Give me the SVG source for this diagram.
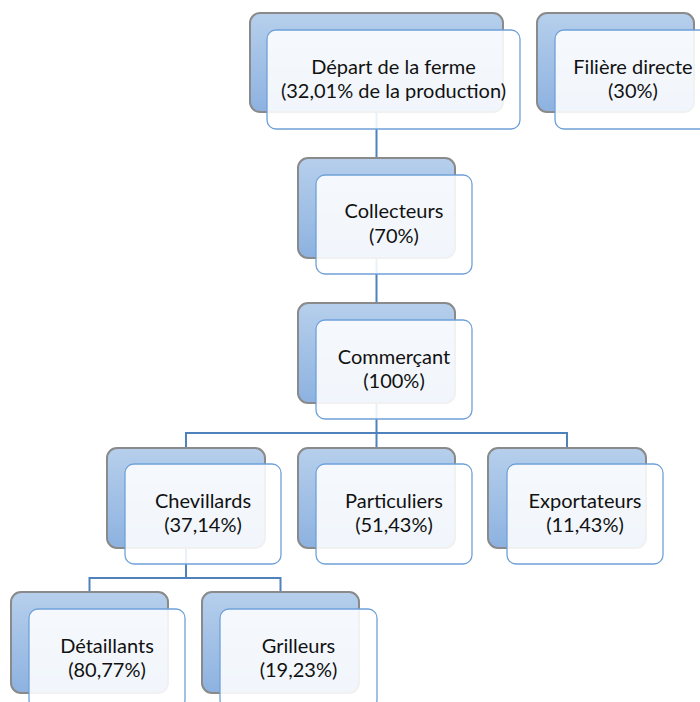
<svg xmlns="http://www.w3.org/2000/svg" width="700" height="702" viewBox="0 0 700 702">
<style>
.back{fill:url(#bg);stroke:#8a8a8a;stroke-width:2}
.front{fill:#ffffff;fill-opacity:0.88;stroke:#6fa1d9;stroke-width:1.3}
.conn{fill:none;stroke:#4f81bd;stroke-width:2}
text{font-family:"Lato","Liberation Sans",sans-serif;font-size:20px;fill:#111;text-anchor:middle}
</style>
<defs>
<linearGradient id="bg" x1="0" y1="0" x2="0" y2="1">
<stop offset="0" stop-color="#b6cfec"/>
<stop offset="1" stop-color="#8db2e0"/>
</linearGradient>
</defs>
<rect width="700" height="702" fill="#ffffff"/>
<g id="connectors">
<path class="conn" d="M376.5 112V158M376.5 258V303M376.5 403V448M186 448V433H567V448M186 548V578M89.5 592V578H280.5V592"/>
</g>
<g id="depart">
<rect class="back" x="250" y="13" width="253" height="99" rx="10"/>
<rect class="front" x="267" y="30" width="253" height="99" rx="9"/>
<text x="393.5" y="74">Départ de la ferme</text>
<text x="393.5" y="98">(32,01% de la production)</text>
</g>
<g id="filiere">
<rect class="back" x="537" y="13" width="157" height="99" rx="10"/>
<rect class="front" x="555" y="30" width="156" height="99" rx="9"/>
<text x="633" y="74">Filière directe</text>
<text x="633" y="98">(30%)</text>
</g>
<g id="collecteurs">
<rect class="back" x="298" y="158" width="157" height="100" rx="10"/>
<rect class="front" x="316" y="175" width="156" height="99" rx="9"/>
<text x="394" y="218">Collecteurs</text>
<text x="394" y="243">(70%)</text>
</g>
<g id="commercant">
<rect class="back" x="298" y="303" width="157" height="100" rx="10"/>
<rect class="front" x="316" y="320" width="156" height="99" rx="9"/>
<text x="394" y="364">Commerçant</text>
<text x="394" y="388">(100%)</text>
</g>
<g id="chevillards">
<rect class="back" x="107" y="448" width="158" height="100" rx="10"/>
<rect class="front" x="125" y="464" width="156" height="100" rx="9"/>
<text x="203" y="508">Chevillards</text>
<text x="203" y="532">(37,14%)</text>
</g>
<g id="particuliers">
<rect class="back" x="298" y="448" width="157" height="100" rx="10"/>
<rect class="front" x="316" y="464" width="156" height="100" rx="9"/>
<text x="394" y="508">Particuliers</text>
<text x="394" y="532">(51,43%)</text>
</g>
<g id="exportateurs">
<rect class="back" x="488" y="448" width="158" height="100" rx="10"/>
<rect class="front" x="507" y="464" width="156" height="100" rx="9"/>
<text x="585" y="508">Exportateurs</text>
<text x="585" y="532">(11,43%)</text>
</g>
<g id="detaillants">
<rect class="back" x="11" y="592" width="157" height="101" rx="10"/>
<rect class="front" x="29" y="609" width="156" height="100" rx="9"/>
<text x="107" y="653">Détaillants</text>
<text x="107" y="677">(80,77%)</text>
</g>
<g id="grilleurs">
<rect class="back" x="202" y="592" width="157" height="101" rx="10"/>
<rect class="front" x="220" y="609" width="157" height="100" rx="9"/>
<text x="298.5" y="653">Grilleurs</text>
<text x="298.5" y="677">(19,23%)</text>
</g>
</svg>
